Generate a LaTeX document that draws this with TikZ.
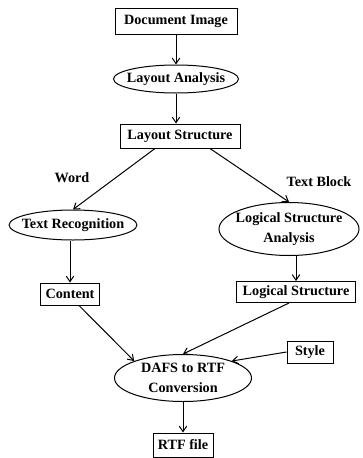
\documentclass[tikz,border=0pt]{standalone}
\usepackage{fontspec}
\setmainfont{Liberation Serif}
\usetikzlibrary{shapes.geometric, arrows.meta}

\begin{document}
\begin{tikzpicture}[x=1pt, y=-1pt,
	box/.style={rectangle, draw, color=black, line width=1pt, inner sep=0pt, font=\fontsize{14.2}{19.5}\selectfont\bfseries},
	oval/.style={ellipse, draw, color=black, line width=1pt, inner xsep=-6pt, inner ysep=0pt, align=center, font=\fontsize{14.2}{19.5}\selectfont\bfseries},
	lbl/.style={inner sep=0pt, font=\fontsize{14.2}{19.5}\selectfont\bfseries},
	arr/.style={line width=1pt, color=black, -{Straight Barb[length=5.5pt, width=7.5pt]}}]
	\useasboundingbox (0, 0) rectangle (363, 458);

	\node[box, minimum width=122pt, minimum height=26pt] (docimg) at (176, 21) {Document Image};
	\node[oval, minimum width=125pt, minimum height=28pt] (layan) at (176, 79) {Layout Analysis};
	\node[box, minimum width=120pt, minimum height=24pt] (layst) at (180, 136) {Layout Structure};
	\node[oval, minimum width=127pt, minimum height=30pt] (textrec) at (73, 225) {Text Recognition};
	\node[oval, minimum width=140pt, minimum height=53pt] (lsa) at (289, 229) {Logical Structure\\Analysis};
	\node[box, minimum width=59pt, minimum height=22pt] (content) at (70, 294) {Content};
	\node[box, minimum width=119pt, minimum height=21pt] (logst) at (296, 292) {Logical Structure};
	\node[box, minimum width=46pt, minimum height=22pt] (style) at (310, 352) {Style};
	\node[oval, minimum width=137pt, minimum height=47pt] (dafs) at (183, 378) {DAFS to RTF\\Conversion};
	\node[box, minimum width=60pt, minimum height=24pt] (rtf) at (183, 445) {RTF file};

	\node[lbl] (word) at (72, 178) {Word};
	\node[lbl] (tblock) at (319, 182) {Text Block};

	% Draw the edges between nodes
	\draw[arr] (docimg) -- (layan);
	\draw[arr] (layan) -- (layan |- layst.north);
	\draw[arr] ([xshift=-25pt]layst.south) -- (textrec.north);
	\draw[arr] ([xshift=30pt]layst.south) -- (lsa.north);
	\draw[arr] (textrec.south -| content) -- (content);
	\draw[arr] (lsa.south -| logst) -- (logst);
	\draw[arr] ([xshift=9pt]content.south) -- (dafs.north west);
	\draw[arr] ([xshift=-7pt]logst.south) -- (dafs.north);
	\draw[arr] (style.west) -- (dafs.north east);
	\draw[arr] (dafs) -- (rtf);
\end{tikzpicture}
\end{document}
